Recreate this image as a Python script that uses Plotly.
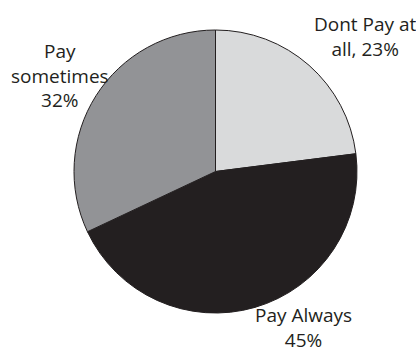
import plotly.graph_objects as go

labels = ["Dont Pay at all", "Pay Always", "Pay sometimes"]
values = [23, 45, 32]
colors = ["#d9dadb", "#231f20", "#929396"]
label_texts = ["Dont Pay at<br>all, 23%", "Pay Always<br>45%", "Pay<br>sometimes<br>32%"]

W, H = 416, 350

fig = go.Figure(go.Pie(
    labels=labels, values=values, sort=False, direction="clockwise", rotation=0,
    marker=dict(colors=colors, line=dict(color="#231f20", width=1)),
    textinfo="none", hoverinfo="label+percent", showlegend=False,
    domain=dict(x=[74 / W, 357 / W], y=[(H - 313) / H, (H - 30) / H]),
))

# label block centre positions in pixels (x, y from top)
label_pos = [(365, 36), (303, 327), (60, 75)]
for txt, (px, py) in zip(label_texts, label_pos):
    fig.add_annotation(text=txt, x=px / W, y=1 - py / H, xref="paper", yref="paper",
                       showarrow=False, xanchor="center", yanchor="middle",
                       font=dict(family="Open Sans", size=19, color="#231f20"))

fig.update_layout(width=W, height=H, margin=dict(l=0, r=0, t=0, b=0),
                  paper_bgcolor="white", plot_bgcolor="white")
fig.write_html("out.html")
